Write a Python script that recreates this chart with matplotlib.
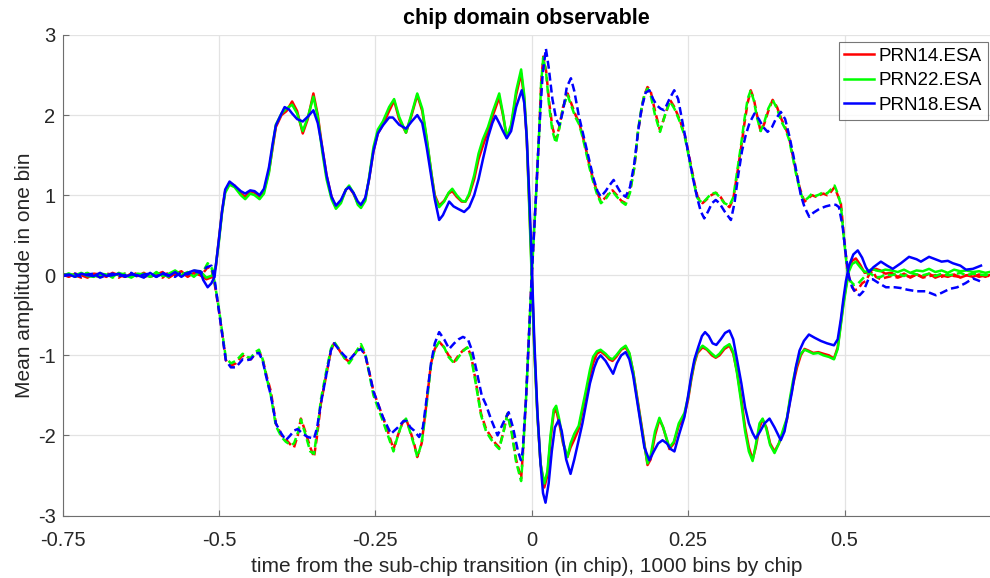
import matplotlib
matplotlib.use('Agg')
import matplotlib.pyplot as plt

plt.rcParams['font.family'] = ['Liberation Sans', 'DejaVu Sans']
plt.rcParams['axes.unicode_minus'] = False

# ---------------- data ----------------
labels = ['PRN14.ESA', 'PRN22.ESA', 'PRN18.ESA']
colors = ['#ff0000', '#00ff00', '#0000ff']

x_ticks = [-0.75, -0.5, -0.25, 0, 0.25, 0.5]
x_ticklabels = ['-0.75', '-0.5', '-0.25', '0', '0.25', '0.5']
y_ticks = [-3, -2, -1, 0, 1, 2, 3]

# flat noisy part before the transition
t_left = [-0.75, -0.74, -0.73, -0.72, -0.71, -0.70, -0.69, -0.68, -0.67, -0.66, -0.65, -0.64,
          -0.63, -0.62, -0.61, -0.60, -0.59, -0.58, -0.57, -0.56, -0.55, -0.54, -0.53]
red_solid_left = [0.01, -0.02, 0.02, 0.00, -0.03, 0.02, 0.01, -0.02, 0.03, 0.00, -0.02, 0.02,
                  -0.01, 0.03, -0.02, 0.01, 0.04, -0.03, 0.02, 0.05, -0.02, 0.03, 0.00]
green_solid_left = [-0.01, 0.02, 0.00, 0.03, -0.01, -0.02, 0.02, 0.01, -0.02, 0.03, 0.00, -0.03,
                    0.02, 0.01, -0.02, 0.04, -0.01, 0.02, 0.06, 0.00, 0.04, -0.02, 0.05]
blue_solid_left = [0.00, 0.01, -0.02, 0.02, 0.00, -0.01, 0.03, -0.01, 0.00, 0.02, -0.02, 0.01,
                   0.00, -0.03, 0.03, -0.02, 0.02, -0.01, 0.04, -0.02, 0.03, 0.06, 0.05]
red_dashed_left = [0.02, -0.01, 0.00, -0.03, 0.02, 0.00, -0.02, 0.02, 0.01, -0.03, 0.02, 0.00,
                   0.03, -0.02, 0.00, 0.02, -0.03, 0.04, 0.00, 0.03, -0.01, 0.02, 0.05]
green_dashed_left = [0.00, 0.02, -0.02, 0.01, 0.03, -0.02, 0.00, 0.02, -0.03, 0.01, 0.02, -0.01,
                     0.00, 0.02, -0.03, 0.03, 0.01, -0.02, 0.05, 0.02, 0.03, 0.06, 0.04]
blue_dashed_left = [-0.01, 0.00, 0.02, -0.02, 0.01, 0.02, -0.03, 0.00, 0.02, -0.01, 0.00, 0.03,
                    -0.02, 0.01, 0.02, -0.02, 0.03, 0.00, -0.02, 0.04, 0.01, 0.05, 0.03]

# flat noisy part after the transition (red / green)
t_right = [0.575, 0.585, 0.595, 0.605, 0.615, 0.625, 0.635, 0.645, 0.655, 0.665, 0.675, 0.685,
           0.695, 0.705, 0.715, 0.725, 0.731]
red_solid_right = [0.03, -0.02, 0.02, -0.03, 0.01, -0.02, 0.02, -0.03, 0.00, -0.02, 0.01, -0.03,
                   0.00, -0.02, 0.01, -0.02, 0.00]
green_solid_right = [0.06, 0.04, 0.07, 0.03, 0.06, 0.05, 0.08, 0.04, 0.06, 0.03, 0.07, 0.05,
                     0.06, 0.04, 0.05, 0.03, 0.04]
red_dashed_right = [-0.01, -0.03, 0.00, -0.02, 0.01, -0.03, -0.01, 0.00, -0.02, 0.01, -0.01, -0.02,
                    0.00, 0.01, -0.02, 0.00, -0.01]
green_dashed_right = [0.00, 0.02, -0.01, 0.03, 0.01, 0.00, 0.02, -0.01, 0.02, 0.00, 0.01, 0.03,
                      0.00, 0.02, 0.01, 0.00, 0.01]

red_solid = [(-0.52,-0.05),(-0.51,-0.02),(-0.505,0.10),(-0.50,0.45),(-0.495,0.80),(-0.49,1.05),(-0.483,1.15),(-0.475,1.12),(-0.465,1.02),(-0.458,0.98),(-0.45,1.05),(-0.443,1.03),(-0.435,0.98),(-0.428,1.05),(-0.42,1.30),(-0.414,1.60),(-0.409,1.85),(-0.40,2.00),(-0.392,2.05),(-0.383,2.17),(-0.375,2.05),(-0.366,1.77),(-0.358,1.95),(-0.349,2.27),(-0.342,2.00),(-0.335,1.60),(-0.328,1.25),(-0.32,0.98),(-0.313,0.85),(-0.305,0.92),(-0.297,1.07),(-0.292,1.10),(-0.285,1.02),(-0.278,0.90),(-0.273,0.87),(-0.266,0.95),(-0.26,1.20),(-0.253,1.55),(-0.246,1.77),(-0.238,1.88),(-0.228,2.05),(-0.22,2.18),(-0.212,1.95),(-0.201,1.78),(-0.192,2.00),(-0.183,2.25),(-0.175,2.05),(-0.168,1.70),(-0.16,1.25),(-0.155,1.00),(-0.148,0.87),(-0.14,0.93),(-0.133,1.02),(-0.127,1.05),(-0.12,0.98),(-0.112,0.92),(-0.106,0.92),(-0.10,1.00),(-0.092,1.20),(-0.085,1.45),(-0.078,1.62),(-0.07,1.80),(-0.062,2.00),(-0.052,2.22),(-0.046,2.00),(-0.04,1.72),(-0.033,1.85),(-0.025,2.25),(-0.017,2.52),(-0.012,2.20),(-0.008,1.70),(-0.004,0.90),(0.0,0.05),(0.004,-0.90),(0.009,-1.73),(0.014,-2.35),(0.02,-2.65),(0.025,-2.50),(0.03,-2.05),(0.035,-1.72),(0.039,-1.68),(0.044,-1.85),(0.05,-2.10),(0.057,-2.27),(0.062,-2.15),(0.068,-2.05),(0.075,-1.92),(0.081,-1.70),(0.087,-1.48),(0.093,-1.25),(0.098,-1.10),(0.104,-0.98),(0.11,-0.95),(0.118,-1.00),(0.124,-1.05),(0.129,-1.07),(0.135,-1.02),(0.143,-0.93),(0.15,-0.90),(0.156,-0.98),(0.162,-1.20),(0.168,-1.50),(0.174,-1.80),(0.18,-2.10),(0.185,-2.37),(0.19,-2.30),(0.197,-2.00),(0.204,-1.80),(0.21,-1.90),(0.22,-2.17),(0.227,-2.10),(0.235,-1.88),(0.244,-1.75),(0.25,-1.55),(0.255,-1.30),(0.26,-1.10),(0.265,-0.97),(0.273,-0.90),(0.28,-0.93),(0.288,-1.00),(0.294,-1.03),(0.30,-1.00),(0.308,-0.92),(0.316,-0.88),(0.322,-0.98),(0.328,-1.20),(0.335,-1.55),(0.341,-1.90),(0.347,-2.15),(0.353,-2.30),(0.358,-2.15),(0.364,-1.90),(0.369,-1.80),(0.375,-1.90),(0.381,-2.10),(0.388,-2.20),(0.395,-2.10),(0.402,-1.95),(0.408,-1.80),(0.413,-1.55),(0.418,-1.35),(0.424,-1.15),(0.43,-1.00),(0.436,-0.92),(0.442,-0.94),(0.45,-0.97),(0.458,-0.96),(0.466,-0.98),(0.475,-1.00),(0.483,-1.04),(0.489,-0.90),(0.494,-0.60),(0.498,-0.35),(0.502,-0.15),(0.507,0.08),(0.512,0.18),(0.518,0.21),(0.525,0.13),(0.532,0.03),(0.539,0.04),(0.545,0.07),(0.55,0.08),(0.557,0.06),(0.565,0.02)]

green_solid = [(-0.52,-0.03),(-0.51,0.00),(-0.505,0.12),(-0.50,0.42),(-0.495,0.78),(-0.49,1.03),(-0.483,1.13),(-0.475,1.10),(-0.465,1.00),(-0.458,0.95),(-0.45,1.02),(-0.443,1.00),(-0.435,0.95),(-0.428,1.02),(-0.42,1.28),(-0.414,1.62),(-0.409,1.88),(-0.40,2.02),(-0.392,2.08),(-0.383,2.13),(-0.375,2.02),(-0.366,1.80),(-0.358,1.97),(-0.349,2.23),(-0.342,1.98),(-0.335,1.55),(-0.328,1.20),(-0.32,0.95),(-0.313,0.83),(-0.305,0.90),(-0.297,1.07),(-0.292,1.12),(-0.285,1.03),(-0.278,0.88),(-0.273,0.84),(-0.266,0.93),(-0.26,1.22),(-0.253,1.60),(-0.246,1.82),(-0.238,1.92),(-0.228,2.10),(-0.22,2.20),(-0.212,1.98),(-0.201,1.78),(-0.192,2.02),(-0.183,2.27),(-0.175,2.08),(-0.168,1.72),(-0.16,1.25),(-0.155,0.98),(-0.148,0.85),(-0.14,0.92),(-0.133,1.03),(-0.127,1.08),(-0.12,1.00),(-0.112,0.93),(-0.106,0.92),(-0.10,1.02),(-0.092,1.25),(-0.085,1.52),(-0.078,1.70),(-0.07,1.85),(-0.062,2.05),(-0.052,2.27),(-0.046,2.02),(-0.04,1.72),(-0.033,1.88),(-0.025,2.30),(-0.017,2.57),(-0.012,2.25),(-0.008,1.72),(-0.004,0.85),(0.0,0.0),(0.004,-0.92),(0.009,-1.75),(0.014,-2.35),(0.02,-2.60),(0.025,-2.45),(0.03,-2.00),(0.035,-1.68),(0.039,-1.63),(0.044,-1.80),(0.05,-2.08),(0.057,-2.27),(0.062,-2.10),(0.068,-1.98),(0.075,-1.88),(0.081,-1.65),(0.087,-1.42),(0.093,-1.18),(0.098,-1.02),(0.104,-0.95),(0.11,-0.93),(0.118,-0.98),(0.124,-1.03),(0.129,-1.05),(0.135,-1.00),(0.143,-0.92),(0.15,-0.88),(0.156,-0.97),(0.162,-1.20),(0.168,-1.52),(0.174,-1.82),(0.18,-2.12),(0.185,-2.35),(0.19,-2.25),(0.197,-1.95),(0.204,-1.78),(0.21,-1.90),(0.22,-2.15),(0.227,-2.08),(0.235,-1.85),(0.244,-1.72),(0.25,-1.52),(0.255,-1.28),(0.26,-1.08),(0.265,-0.95),(0.273,-0.88),(0.28,-0.92),(0.288,-0.98),(0.294,-1.02),(0.30,-0.98),(0.308,-0.90),(0.316,-0.86),(0.322,-0.96),(0.328,-1.22),(0.335,-1.60),(0.341,-1.95),(0.347,-2.20),(0.353,-2.32),(0.358,-2.12),(0.364,-1.85),(0.369,-1.79),(0.375,-1.92),(0.381,-2.12),(0.388,-2.22),(0.395,-2.10),(0.402,-1.92),(0.408,-1.78),(0.413,-1.52),(0.418,-1.30),(0.424,-1.10),(0.43,-0.98),(0.436,-0.93),(0.442,-0.95),(0.45,-0.98),(0.458,-0.97),(0.466,-1.00),(0.475,-1.02),(0.483,-1.05),(0.489,-0.92),(0.494,-0.62),(0.498,-0.38),(0.502,-0.18),(0.507,0.05),(0.512,0.14),(0.518,0.17),(0.525,0.10),(0.532,0.04),(0.539,0.06),(0.545,0.08),(0.55,0.06),(0.557,0.05),(0.565,0.07)]

blue_solid = [(-0.525,-0.06),(-0.518,-0.15),(-0.512,-0.10),(-0.507,-0.02),(-0.50,0.45),(-0.495,0.80),(-0.49,1.07),(-0.483,1.17),(-0.475,1.12),(-0.465,1.05),(-0.458,1.02),(-0.45,1.06),(-0.443,1.05),(-0.435,1.00),(-0.428,1.08),(-0.42,1.35),(-0.414,1.65),(-0.409,1.87),(-0.40,2.02),(-0.395,2.10),(-0.388,2.07),(-0.383,2.02),(-0.375,1.95),(-0.366,1.92),(-0.358,1.98),(-0.349,2.06),(-0.342,1.90),(-0.335,1.60),(-0.328,1.25),(-0.32,0.98),(-0.313,0.87),(-0.305,0.94),(-0.297,1.07),(-0.292,1.10),(-0.285,1.03),(-0.278,0.92),(-0.273,0.88),(-0.266,0.97),(-0.26,1.20),(-0.253,1.55),(-0.246,1.77),(-0.238,1.87),(-0.228,1.97),(-0.222,1.97),(-0.212,1.88),(-0.201,1.83),(-0.192,1.92),(-0.183,2.00),(-0.175,1.90),(-0.168,1.60),(-0.16,1.20),(-0.155,0.95),(-0.148,0.69),(-0.142,0.75),(-0.132,0.92),(-0.125,0.86),(-0.118,0.83),(-0.108,0.79),(-0.10,0.85),(-0.092,1.00),(-0.085,1.20),(-0.078,1.45),(-0.07,1.72),(-0.063,1.90),(-0.058,1.99),(-0.052,1.90),(-0.046,1.80),(-0.04,1.71),(-0.033,1.80),(-0.025,2.10),(-0.016,2.31),(-0.012,2.15),(-0.008,1.72),(-0.004,1.00),(0.0,0.15),(0.004,-0.80),(0.009,-1.70),(0.014,-2.35),(0.018,-2.72),(0.022,-2.84),(0.027,-2.60),(0.032,-2.20),(0.037,-1.90),(0.043,-1.81),(0.048,-1.95),(0.055,-2.30),(0.062,-2.48),(0.068,-2.30),(0.075,-2.06),(0.081,-1.85),(0.087,-1.60),(0.093,-1.35),(0.10,-1.15),(0.105,-1.05),(0.11,-1.00),(0.118,-1.07),(0.124,-1.15),(0.13,-1.23),(0.136,-1.10),(0.143,-1.00),(0.15,-0.96),(0.156,-1.05),(0.162,-1.25),(0.168,-1.55),(0.174,-1.85),(0.18,-2.15),(0.188,-2.31),(0.195,-2.20),(0.202,-2.10),(0.209,-2.06),(0.216,-2.10),(0.222,-2.17),(0.228,-2.20),(0.235,-2.00),(0.244,-1.77),(0.25,-1.50),(0.255,-1.25),(0.26,-1.05),(0.266,-0.90),(0.272,-0.76),(0.277,-0.71),(0.283,-0.76),(0.289,-0.85),(0.295,-0.87),(0.302,-0.80),(0.309,-0.72),(0.316,-0.69),(0.322,-0.80),(0.328,-1.05),(0.335,-1.35),(0.341,-1.65),(0.347,-1.85),(0.353,-1.97),(0.358,-2.04),(0.365,-1.95),(0.372,-1.85),(0.38,-1.79),(0.388,-1.90),(0.398,-2.06),(0.404,-1.95),(0.41,-1.70),(0.416,-1.45),(0.422,-1.15),(0.428,-0.94),(0.435,-0.82),(0.443,-0.74),(0.452,-0.78),(0.462,-0.82),(0.472,-0.85),(0.483,-0.875),(0.489,-0.80),(0.494,-0.55),(0.498,-0.30),(0.502,-0.08),(0.507,0.12),(0.514,0.26),(0.521,0.31),(0.528,0.22),(0.534,0.10),(0.539,0.04),(0.546,0.10),(0.558,0.17),(0.568,0.12),(0.577,0.08),(0.59,0.15),(0.603,0.23),(0.615,0.20),(0.622,0.17),(0.635,0.23),(0.645,0.20),(0.655,0.17),(0.665,0.18),(0.673,0.15),(0.685,0.12),(0.694,0.07),(0.705,0.08),(0.715,0.11),(0.718,0.12)]

red_dashed = [(-0.525,0.03),(-0.518,0.10),(-0.512,0.08),(-0.507,-0.10),(-0.50,-0.44),(-0.494,-0.77),(-0.489,-1.06),(-0.481,-1.13),(-0.473,-1.10),(-0.462,-1.00),(-0.455,-1.04),(-0.449,-1.05),(-0.442,-0.98),(-0.436,-0.95),(-0.43,-1.05),(-0.424,-1.25),(-0.417,-1.45),(-0.409,-1.85),(-0.40,-2.00),(-0.393,-2.05),(-0.385,-2.12),(-0.38,-2.15),(-0.374,-2.00),(-0.369,-1.79),(-0.362,-1.95),(-0.354,-2.15),(-0.348,-2.27),(-0.343,-2.00),(-0.337,-1.60),(-0.329,-1.27),(-0.321,-0.94),(-0.316,-0.85),(-0.308,-0.93),(-0.30,-1.03),(-0.292,-1.08),(-0.285,-1.00),(-0.278,-0.93),(-0.273,-0.90),(-0.266,-1.00),(-0.26,-1.20),(-0.253,-1.45),(-0.246,-1.60),(-0.238,-1.77),(-0.23,-1.95),(-0.221,-2.17),(-0.214,-2.00),(-0.207,-1.85),(-0.201,-1.79),(-0.194,-1.95),(-0.188,-2.10),(-0.183,-2.27),(-0.176,-2.10),(-0.169,-1.65),(-0.161,-1.10),(-0.155,-0.92),(-0.148,-0.83),(-0.14,-0.90),(-0.133,-1.00),(-0.124,-1.08),(-0.117,-1.00),(-0.11,-0.94),(-0.103,-0.90),(-0.097,-1.00),(-0.09,-1.30),(-0.081,-1.73),(-0.073,-1.92),(-0.065,-2.02),(-0.058,-2.10),(-0.052,-2.15),(-0.045,-1.95),(-0.039,-1.73),(-0.032,-1.95),(-0.025,-2.30),(-0.017,-2.54),(-0.0146,-2.27),(-0.009,-1.52),(-0.004,-0.69),(0.0,0.0),(0.0067,0.98),(0.012,1.81),(0.015,2.40),(0.0184,2.73),(0.023,2.55),(0.028,2.15),(0.033,1.85),(0.0386,1.69),(0.044,1.85),(0.05,2.10),(0.0573,2.27),(0.063,2.15),(0.07,2.00),(0.076,1.90),(0.082,1.72),(0.087,1.56),(0.092,1.38),(0.097,1.23),(0.104,1.05),(0.1105,0.92),(0.118,0.97),(0.124,1.03),(0.129,1.06),(0.136,1.00),(0.143,0.93),(0.15,0.90),(0.157,1.05),(0.164,1.35),(0.17,1.80),(0.176,2.10),(0.18,2.25),(0.185,2.35),(0.19,2.30),(0.197,2.05),(0.205,1.81),(0.213,2.00),(0.221,2.19),(0.228,2.10),(0.236,1.95),(0.244,1.77),(0.25,1.55),(0.255,1.35),(0.26,1.15),(0.265,0.98),(0.273,0.90),(0.28,0.95),(0.287,1.00),(0.294,1.03),(0.30,1.00),(0.308,0.90),(0.316,0.85),(0.322,0.95),(0.328,1.25),(0.334,1.56),(0.34,1.90),(0.345,2.15),(0.35,2.31),(0.355,2.20),(0.36,2.00),(0.366,1.79),(0.372,1.90),(0.378,2.05),(0.385,2.19),(0.392,2.10),(0.399,1.95),(0.405,1.85),(0.411,1.73),(0.417,1.50),(0.422,1.31),(0.428,1.10),(0.432,1.00),(0.436,0.92),(0.442,0.96),(0.448,1.00),(0.454,0.98),(0.46,1.00),(0.466,1.02),(0.472,1.00),(0.478,1.04),(0.484,1.10),(0.489,1.00),(0.494,0.90),(0.499,0.48),(0.504,0.10),(0.508,-0.05),(0.515,-0.19),(0.522,-0.17),(0.528,-0.10),(0.534,-0.07),(0.54,0.02),(0.545,0.05),(0.55,-0.02),(0.558,-0.05),(0.565,-0.03)]

green_dashed = [(-0.525,0.05),(-0.518,0.15),(-0.512,0.10),(-0.507,-0.08),(-0.50,-0.42),(-0.494,-0.75),(-0.489,-1.03),(-0.481,-1.10),(-0.473,-1.07),(-0.462,-0.98),(-0.455,-1.02),(-0.449,-1.03),(-0.442,-0.96),(-0.436,-0.93),(-0.43,-1.05),(-0.424,-1.27),(-0.417,-1.50),(-0.409,-1.88),(-0.40,-2.02),(-0.393,-2.08),(-0.385,-2.12),(-0.38,-2.10),(-0.374,-1.97),(-0.369,-1.80),(-0.362,-1.98),(-0.354,-2.20),(-0.348,-2.23),(-0.343,-1.95),(-0.337,-1.55),(-0.329,-1.22),(-0.321,-0.92),(-0.316,-0.83),(-0.308,-0.92),(-0.30,-1.03),(-0.292,-1.10),(-0.285,-1.02),(-0.278,-0.92),(-0.273,-0.86),(-0.266,-0.98),(-0.26,-1.22),(-0.253,-1.50),(-0.246,-1.65),(-0.238,-1.82),(-0.23,-2.00),(-0.221,-2.20),(-0.214,-2.00),(-0.207,-1.85),(-0.201,-1.79),(-0.194,-1.97),(-0.188,-2.12),(-0.183,-2.27),(-0.176,-2.10),(-0.169,-1.68),(-0.161,-1.12),(-0.155,-0.92),(-0.148,-0.83),(-0.14,-0.90),(-0.133,-1.02),(-0.124,-1.10),(-0.117,-1.02),(-0.11,-0.95),(-0.103,-0.90),(-0.097,-1.02),(-0.09,-1.33),(-0.081,-1.75),(-0.073,-1.95),(-0.065,-2.05),(-0.058,-2.12),(-0.052,-2.17),(-0.045,-1.95),(-0.039,-1.73),(-0.032,-1.97),(-0.025,-2.33),(-0.017,-2.57),(-0.0146,-2.30),(-0.009,-1.52),(-0.004,-0.68),(0.0,0.0),(0.0067,0.98),(0.012,1.81),(0.015,2.40),(0.0184,2.72),(0.023,2.52),(0.028,2.10),(0.033,1.80),(0.0386,1.65),(0.044,1.83),(0.05,2.10),(0.0573,2.25),(0.063,2.12),(0.07,1.97),(0.076,1.88),(0.082,1.70),(0.087,1.53),(0.092,1.35),(0.097,1.20),(0.104,1.02),(0.1105,0.90),(0.118,0.95),(0.124,1.02),(0.129,1.05),(0.136,0.98),(0.143,0.92),(0.15,0.88),(0.157,1.03),(0.164,1.35),(0.17,1.82),(0.176,2.12),(0.18,2.25),(0.185,2.33),(0.19,2.25),(0.197,2.00),(0.205,1.79),(0.213,2.00),(0.221,2.17),(0.228,2.08),(0.236,1.93),(0.244,1.75),(0.25,1.52),(0.255,1.32),(0.26,1.12),(0.265,0.96),(0.273,0.90),(0.28,0.96),(0.287,1.02),(0.294,1.03),(0.30,0.98),(0.308,0.90),(0.316,0.87),(0.322,0.97),(0.328,1.28),(0.334,1.60),(0.34,1.95),(0.345,2.20),(0.35,2.31),(0.355,2.18),(0.36,1.97),(0.366,1.80),(0.372,1.92),(0.378,2.08),(0.385,2.19),(0.392,2.08),(0.399,1.92),(0.405,1.83),(0.411,1.70),(0.417,1.48),(0.422,1.28),(0.428,1.08),(0.432,0.98),(0.436,0.93),(0.442,0.97),(0.448,1.02),(0.454,0.99),(0.46,1.01),(0.466,1.04),(0.472,1.02),(0.478,1.07),(0.484,1.12),(0.489,1.02),(0.494,0.88),(0.499,0.45),(0.504,0.08),(0.508,-0.06),(0.515,-0.12),(0.522,-0.10),(0.528,-0.05),(0.534,0.00),(0.54,0.03),(0.545,0.00),(0.55,-0.03),(0.558,-0.02),(0.565,0.01)]

blue_dashed = [(-0.525,0.04),(-0.52,0.10),(-0.512,0.12),(-0.507,-0.05),(-0.50,-0.44),(-0.494,-0.77),(-0.489,-1.06),(-0.481,-1.15),(-0.473,-1.15),(-0.462,-1.05),(-0.455,-1.06),(-0.449,-1.05),(-0.442,-0.98),(-0.436,-0.97),(-0.43,-1.07),(-0.424,-1.28),(-0.417,-1.50),(-0.409,-1.85),(-0.40,-1.98),(-0.393,-2.06),(-0.386,-2.00),(-0.38,-1.94),(-0.374,-1.92),(-0.366,-1.98),(-0.358,-2.02),(-0.348,-2.04),(-0.343,-1.90),(-0.337,-1.60),(-0.329,-1.27),(-0.321,-0.94),(-0.316,-0.85),(-0.308,-0.93),(-0.30,-1.00),(-0.292,-1.06),(-0.285,-1.00),(-0.278,-0.94),(-0.273,-0.92),(-0.266,-1.00),(-0.26,-1.20),(-0.253,-1.45),(-0.246,-1.60),(-0.238,-1.77),(-0.225,-1.98),(-0.214,-1.90),(-0.205,-1.82),(-0.20,-1.82),(-0.194,-1.90),(-0.188,-1.94),(-0.18,-2.02),(-0.174,-1.90),(-0.169,-1.60),(-0.161,-1.10),(-0.155,-0.85),(-0.148,-0.71),(-0.14,-0.80),(-0.132,-0.92),(-0.124,-0.85),(-0.117,-0.80),(-0.11,-0.77),(-0.102,-0.80),(-0.095,-0.95),(-0.088,-1.20),(-0.08,-1.50),(-0.073,-1.62),(-0.065,-1.80),(-0.0546,-2.00),(-0.046,-1.85),(-0.037,-1.71),(-0.03,-1.90),(-0.022,-2.20),(-0.0173,-2.31),(-0.0146,-2.20),(-0.009,-1.52),(-0.004,-0.69),(0.0,0.0),(0.0067,0.98),(0.012,1.81),(0.0173,2.50),(0.0226,2.83),(0.027,2.60),(0.033,2.20),(0.039,1.95),(0.044,1.875),(0.05,2.05),(0.056,2.35),(0.0626,2.46),(0.068,2.30),(0.075,2.00),(0.081,1.80),(0.087,1.60),(0.093,1.40),(0.099,1.20),(0.105,1.05),(0.1105,0.98),(0.118,1.05),(0.124,1.12),(0.1308,1.19),(0.137,1.10),(0.143,1.02),(0.15,0.98),(0.157,1.10),(0.164,1.40),(0.17,1.80),(0.176,2.10),(0.182,2.28),(0.188,2.31),(0.194,2.20),(0.20,2.12),(0.206,2.08),(0.2118,2.06),(0.22,2.20),(0.2277,2.31),(0.234,2.20),(0.24,1.95),(0.246,1.70),(0.252,1.45),(0.258,1.20),(0.264,0.98),(0.27,0.80),(0.2757,0.71),(0.282,0.80),(0.288,0.90),(0.294,0.94),(0.30,0.90),(0.308,0.80),(0.3183,0.69),(0.324,0.90),(0.33,1.25),(0.336,1.55),(0.342,1.75),(0.348,1.90),(0.356,2.02),(0.363,1.95),(0.37,1.85),(0.377,1.79),(0.384,1.85),(0.39,1.95),(0.398,2.04),(0.405,1.95),(0.412,1.73),(0.418,1.50),(0.424,1.25),(0.43,1.00),(0.436,0.85),(0.4435,0.73),(0.45,0.78),(0.46,0.83),(0.47,0.86),(0.48,0.88),(0.486,0.88),(0.491,0.85),(0.497,0.60),(0.502,0.25),(0.507,-0.02),(0.512,-0.15),(0.518,-0.22),(0.524,-0.25),(0.53,-0.20),(0.538,-0.05),(0.545,-0.05),(0.555,-0.10),(0.566,-0.15),(0.58,-0.15),(0.59,-0.16),(0.60,-0.18),(0.615,-0.20),(0.63,-0.20),(0.646,-0.25),(0.655,-0.22),(0.668,-0.17),(0.68,-0.15),(0.693,-0.10),(0.705,-0.04),(0.712,-0.06),(0.718,-0.08)]


def assemble(left_vals, main, right_vals=None):
    t = list(t_left) + [p[0] for p in main]
    v = list(left_vals) + [p[1] for p in main]
    if right_vals is not None:
        t += list(t_right)
        v += list(right_vals)
    return t, v


solid_sets = [assemble(red_solid_left, red_solid, red_solid_right),
              assemble(green_solid_left, green_solid, green_solid_right),
              assemble(blue_solid_left, blue_solid)]
dashed_sets = [assemble(red_dashed_left, red_dashed, red_dashed_right),
               assemble(green_dashed_left, green_dashed, green_dashed_right),
               assemble(blue_dashed_left, blue_dashed)]

# ---------------- figure ----------------
W, H = 990, 578
fig = plt.figure(figsize=(W / 100, H / 100), dpi=100)
ax_l, ax_r, ax_t, ax_b = 62.5, 990.0, 35.0, 515.5
ax = fig.add_axes([ax_l / W, (H - ax_b) / H, (ax_r - ax_l) / W, (ax_b - ax_t) / H])

handles = []
for (ts, vs), (td, vd), c, lab in zip(solid_sets, dashed_sets, colors, labels):
    h, = ax.plot(ts, vs, color=c, lw=1.8, label=lab, solid_joinstyle='round')
    ax.plot(td, vd, color=c, lw=1.8, linestyle=(0, (3.2, 1.6)))
    handles.append(h)

ax.set_xlim(-0.75, 0.7324)
ax.set_ylim(-3, 3)
ax.set_xticks(x_ticks)
ax.set_xticklabels(x_ticklabels)
ax.set_yticks(y_ticks)
ax.grid(True, color='#e3e3e3', linewidth=0.9)
ax.set_axisbelow(True)
for s in ['top', 'right']:
    ax.spines[s].set_visible(False)
for s in ['left', 'bottom']:
    ax.spines[s].set_color('#6e6e6e')
    ax.spines[s].set_linewidth(0.8)
ax.tick_params(direction='in', length=4, width=0.8, color='#6e6e6e',
               labelcolor='#262626', labelsize=14.5)
ax.tick_params(axis='x', pad=11)
ax.tick_params(axis='y', pad=5)

ax.set_title('chip domain observable', fontsize=15.5, fontweight='bold', color='black', pad=8)
ax.set_xlabel('time from the sub-chip transition (in chip), 1000 bins by chip',
              fontsize=15, color='#262626', labelpad=5)
ax.set_ylabel('Mean amplitude in one bin', fontsize=15, color='#262626', labelpad=3)

leg = ax.legend(handles=handles, loc='upper right',
                bbox_to_anchor=((988 - ax_l) / (ax_r - ax_l), (ax_b - 42) / (ax_b - ax_t)),
                borderaxespad=0, fontsize=13.5, frameon=True, fancybox=False,
                handlelength=1.6, handletextpad=0.25, borderpad=0.3, labelspacing=0.4)
leg.get_frame().set_edgecolor('#555555')
leg.get_frame().set_linewidth(0.8)
for line in leg.get_lines():
    line.set_linewidth(1.8)

fig.savefig('out.png', dpi=100)
